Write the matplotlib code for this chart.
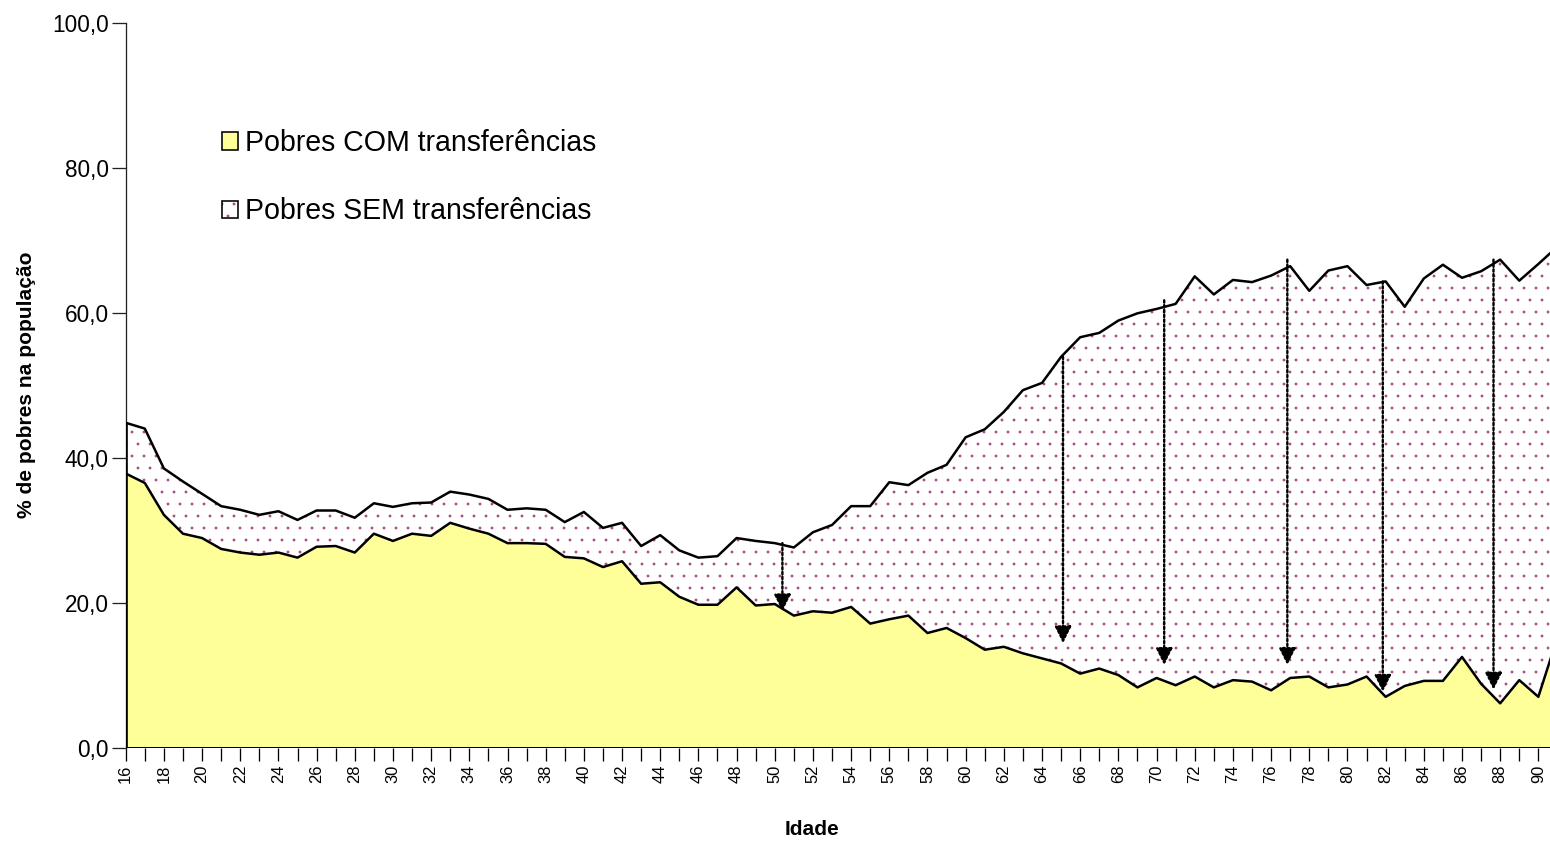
import matplotlib
matplotlib.use("Agg")
import matplotlib.pyplot as plt
from matplotlib.patches import Patch
from matplotlib.legend_handler import HandlerTuple
import numpy as np

plt.rcParams['font.family'] = ['Liberation Sans', 'DejaVu Sans']
plt.rcParams['hatch.linewidth'] = 0.3

# ---------------- data ----------------
ages = list(range(16, 92))

pobres_sem = [44.9, 44.1, 38.6, 36.8, 35.1, 33.4, 32.9, 32.2, 32.7, 31.5,
              32.8, 32.8, 31.8, 33.8, 33.3, 33.8, 33.9, 35.4, 35.0, 34.4,
              32.9, 33.1, 32.9, 31.2, 32.6, 30.4, 31.1, 27.9, 29.4, 27.3,
              26.3, 26.5, 29.0, 28.6, 28.3, 27.7, 29.8, 30.8, 33.4, 33.4,
              36.7, 36.3, 38.0, 39.1, 42.9, 44.0, 46.4, 49.4, 50.4, 54.0,
              56.7, 57.3, 59.0, 60.0, 60.6, 61.3, 65.1, 62.6, 64.6, 64.3,
              65.2, 66.5, 63.1, 65.9, 66.5, 63.9, 64.4, 60.9, 64.8, 66.7,
              64.9, 65.8, 67.4, 64.5, 66.8, 69.2]

pobres_com = [37.9, 36.6, 32.2, 29.6, 29.0, 27.5, 27.0, 26.7, 27.0, 26.3,
              27.8, 27.9, 27.0, 29.6, 28.6, 29.6, 29.3, 31.1, 30.3, 29.6,
              28.3, 28.3, 28.2, 26.4, 26.2, 25.0, 25.8, 22.7, 22.9, 20.9,
              19.8, 19.8, 22.2, 19.7, 19.9, 18.3, 18.9, 18.7, 19.5, 17.2,
              17.8, 18.3, 15.9, 16.6, 15.2, 13.6, 14.0, 13.1, 12.4, 11.7,
              10.3, 11.0, 10.1, 8.4, 9.7, 8.7, 9.9, 8.4, 9.4, 9.2,
              8.0, 9.7, 9.9, 8.4, 8.8, 9.9, 7.1, 8.6, 9.3, 9.3,
              12.6, 8.9, 6.2, 9.4, 7.1, 15.3]

# annotation arrows (age, from value, to value)
arrow_age = [50.4, 65.1, 70.4, 76.85, 81.85, 87.65]
arrow_from = [28.3, 54.0, 61.8, 67.4, 64.4, 67.4]
arrow_to = [18.9, 14.5, 11.5, 11.5, 7.8, 8.1]

label_com = "Pobres COM transferências"
label_sem = "Pobres SEM transferências"
y_ticks = [0, 20, 40, 60, 80, 100]

# ---------------- figure (dpi 72: 1 pt == 1 px) ----------------
DPI = 72
W, H = 1550, 846
fig = plt.figure(figsize=(W / DPI, H / DPI), dpi=DPI)
x0, x1 = 125.7, 1550
y0, y1 = 748.3, 23.3
ax = fig.add_axes([x0 / W, (H - y0) / H, (x1 - x0) / W, (y0 - y1) / H])

yellow = '#FFFF99'
dotcol = '#A8487E'

x = np.array(ages)
lo = np.array(pobres_com)
hi = np.array(pobres_sem)

# upper (SEM) region with dotted pattern
ax.fill_between(x, lo, hi, facecolor='white', edgecolor=dotcol, hatch='.',
                linewidth=0, zorder=1)
# lower (COM) region
ax.fill_between(x, 0, lo, facecolor=yellow, edgecolor='none', zorder=2)
# outlines
ax.plot(x, hi, color='black', lw=2.5, zorder=3)
ax.plot(x, lo, color='black', lw=2.5, zorder=3)
ax.plot([x[0], x[0]], [0, hi[0]], color='black', lw=2.6, zorder=3)
ax.axhline(0, color='black', lw=3, zorder=3)

# arrows
for a, f, t in zip(arrow_age, arrow_from, arrow_to):
    ax.annotate('', xy=(a, t), xytext=(a, f),
                arrowprops=dict(arrowstyle='-|>,head_length=0.5,head_width=0.25',
                                mutation_scale=28, color='black', lw=2.4,
                                linestyle=(0, (1, 1)), shrinkA=0, shrinkB=0),
                zorder=4)

ax.set_xlim(16, 16 + (x1 - x0) / 19.09)
ax.set_ylim(0, 100)

# axes styling
for s in ['top', 'right', 'bottom']:
    ax.spines[s].set_visible(False)
ax.spines['left'].set_color('#222222')
ax.spines['left'].set_linewidth(1.3)

ax.set_yticks(y_ticks)
ax.set_yticklabels([f"{v:.1f}".replace('.', ',') for v in y_ticks], fontsize=22.5)
ax.tick_params(axis='y', direction='out', length=14, width=1.3, color='#222222', pad=3)

ax.set_xticks(ages[:-1])
ax.set_xticklabels([str(a) if a % 2 == 0 else '' for a in ages[:-1]],
                   rotation=90, fontsize=16.5)
ax.tick_params(axis='x', direction='out', length=13, width=1.3, color='black', pad=3)

ax.set_xlabel('Idade', fontsize=21, fontweight='bold')
ax.xaxis.set_label_coords((812 - x0) / (x1 - x0), (y0 - 820) / (y0 - y1))
ax.set_ylabel('% de pobres na população', fontsize=21, fontweight='bold')
ax.yaxis.set_label_coords((36 - x0) / (x1 - x0), (y0 - 385) / (y0 - y1))

# legend
h_com = Patch(facecolor=yellow, edgecolor='black', linewidth=1.6)
h_sem_fill = Patch(facecolor='white', edgecolor=dotcol, hatch='.', linewidth=0)
h_sem_edge = Patch(facecolor='none', edgecolor='black', linewidth=1.6)
leg = ax.legend([h_com, (h_sem_fill, h_sem_edge)], [label_com, label_sem],
                handler_map={tuple: HandlerTuple(ndivide=1, pad=0)},
                loc='upper left',
                bbox_to_anchor=((222 - x0) / (x1 - x0), (y0 - 129) / (y0 - y1)),
                frameon=False, fontsize=28.5, handlelength=0.55, handleheight=0.55,
                handletextpad=0.25, labelspacing=1.42, borderpad=0, borderaxespad=0)

fig.savefig('out.png', dpi=DPI)
